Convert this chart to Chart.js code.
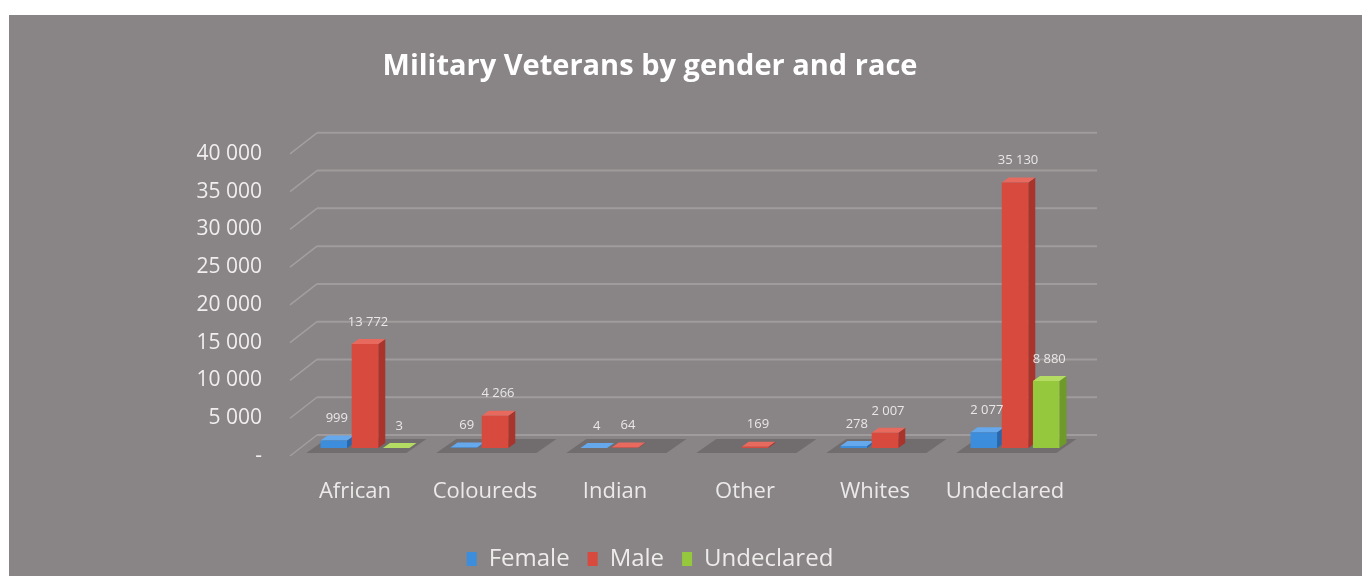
<!DOCTYPE html>
<html>
<head>
<meta charset="utf-8">
<script src="https://cdn.jsdelivr.net/npm/chart.js@4.4.1/dist/chart.umd.min.js"></script>
<style>
  html, body { margin: 0; padding: 0; background: #fff; overflow: hidden; width: 1362px; height: 576px; }
  #panel { position: absolute; left: 9px; top: 15px; right: 0; bottom: 0; background: #898485; overflow: hidden; }
  #chart { position: absolute; left: 0; top: 0; }
</style>
</head>
<body>
<div id="panel"><canvas id="chart" width="1282" height="566"></canvas></div>
<script>
// data
const categories = ['African', 'Coloureds', 'Indian', 'Other', 'Whites', 'Undeclared'];
const female = [999, 69, 4, null, 278, 2077];
const male = [13772, 4266, 64, 169, 2007, 35130];
const undeclared = [3, null, null, null, null, 8880];
const yMax = 40000;
const yStep = 5000;

// 3d look
const WALL_DX = 27, WALL_DY = 21;
const BAR_TX = 10, BAR_TY = -8;
const DEPTH_X = 7, DEPTH_Y = 5;

const faces = [
  { front: '#3d8ddd', top: '#66a8ec', side: '#2a66aa' },
  { front: '#d8493e', top: '#e86a5e', side: '#a8342b' },
  { front: '#96c83e', top: '#b4dc62', side: '#6e9a2a' }
];

function fmt(v) {
  if (v === 0) return '-';
  return String(v).replace(/\B(?=(\d{3})+(?!\d))/g, ' ');
}

// title and legend are centred on the whole canvas, not on the padded box
const centreBoxes = {
  id: 'centreBoxes',
  afterLayout(chart) {
    [chart.titleBlock, chart.legend].forEach(b => {
      if (!b) return;
      b.left = 0;
      b.right = chart.width;
      b.width = chart.width;
    });
  }
};

const fakeDepth = {
  id: 'fakeDepth',
  beforeDatasetsDraw(chart) {
    const ctx = chart.ctx;
    const area = chart.chartArea;
    const ys = chart.scales.y;
    const xs = chart.scales.x;

    // back wall + side wall grid
    ctx.save();
    ys.ticks.forEach(t => {
      const y = ys.getPixelForValue(t.value);
      ctx.strokeStyle = 'rgba(190,186,187,0.5)';
      ctx.lineWidth = 1.5;
      ctx.beginPath();
      ctx.moveTo(area.left, y);
      ctx.lineTo(area.left + WALL_DX, y - WALL_DY);
      ctx.stroke();
      ctx.strokeStyle = '#a09b9c';
      ctx.lineWidth = 2;
      ctx.beginPath();
      ctx.moveTo(area.left + WALL_DX, y - WALL_DY);
      ctx.lineTo(area.right + WALL_DX, y - WALL_DY);
      ctx.stroke();
    });

    // floor shadow under every group
    const base = ys.getPixelForValue(0);
    const cw = xs.width / categories.length;
    ctx.fillStyle = '#716d6e';
    categories.forEach((c, i) => {
      const cx = xs.getPixelForValue(i);
      const l = cx - cw * 0.39, r = cx + cw * 0.38;
      ctx.beginPath();
      ctx.moveTo(l + 2, base - 3);
      ctx.lineTo(r + 2, base - 3);
      ctx.lineTo(r + 22, base - 17);
      ctx.lineTo(l + 22, base - 17);
      ctx.closePath();
      ctx.fill();
    });
    ctx.restore();

    // bar sides and tops, then shift for the fronts
    ctx.save();
    ctx.translate(BAR_TX, BAR_TY);
    chart.data.datasets.forEach((ds, di) => {
      const meta = chart.getDatasetMeta(di);
      meta.data.forEach((el, i) => {
        if (ds.data[i] === null) return;
        const l = el.x - el.width / 2, r = el.x + el.width / 2;
        ctx.fillStyle = faces[di].side;
        ctx.beginPath();
        ctx.moveTo(r, el.y);
        ctx.lineTo(r + DEPTH_X, el.y - DEPTH_Y);
        ctx.lineTo(r + DEPTH_X, el.base - DEPTH_Y);
        ctx.lineTo(r, el.base);
        ctx.closePath();
        ctx.fill();
        ctx.fillStyle = faces[di].top;
        ctx.beginPath();
        ctx.moveTo(l, el.y);
        ctx.lineTo(r, el.y);
        ctx.lineTo(r + DEPTH_X, el.y - DEPTH_Y);
        ctx.lineTo(l + DEPTH_X, el.y - DEPTH_Y);
        ctx.closePath();
        ctx.fill();
      });
    });
  },
  afterDatasetsDraw(chart) {
    const ctx = chart.ctx;
    ctx.restore();
    ctx.save();
    ctx.font = '13px "Open Sans"';
    ctx.fillStyle = '#e9e7e7';
    ctx.textAlign = 'center';
    ctx.textBaseline = 'middle';
    chart.data.datasets.forEach((ds, di) => {
      const meta = chart.getDatasetMeta(di);
      meta.data.forEach((el, i) => {
        const v = ds.data[i];
        if (v === null) return;
        ctx.fillText(fmt(v), el.x + BAR_TX + 3, el.y + BAR_TY - 22);
      });
    });
    ctx.restore();
  }
};

new Chart(document.getElementById('chart'), {
  type: 'bar',
  data: {
    labels: categories,
    datasets: [
      { label: 'Female', data: female, backgroundColor: faces[0].front },
      { label: 'Male', data: male, backgroundColor: faces[1].front },
      { label: 'Undeclared', data: undeclared, backgroundColor: faces[2].front }
    ]
  },
  options: {
    responsive: false,
    animation: false,
    categoryPercentage: 0.72,
    barPercentage: 0.85,
    layout: { padding: { left: 0, right: 221, top: 0, bottom: 0 } },
    plugins: {
      title: {
        display: true,
        text: 'Military Veterans by gender and race',
        color: '#ffffff',
        font: { family: 'Open Sans', size: 29, weight: 'bold' },
        padding: { top: 34, bottom: 70 }
      },
      legend: {
        position: 'bottom',
        labels: {
          color: '#eeeceb',
          font: { family: 'Open Sans', size: 24 },
          boxWidth: 10,
          boxHeight: 14,
          padding: 18
        }
      },
      tooltip: { enabled: false }
    },
    scales: {
      x: {
        grid: { display: false },
        border: { display: false },
        ticks: { color: '#ebe9e9', font: { family: 'Open Sans', size: 22 }, padding: 15, maxRotation: 0 },
        afterFit(scale) { scale.height = 73; }
      },
      y: {
        min: 0,
        max: yMax,
        grid: { display: false, drawTicks: false },
        border: { display: false },
        ticks: {
          stepSize: yStep,
          color: '#f0eeee',
          font: { family: 'Open Sans', size: 21 },
          padding: 28,
          callback: v => fmt(v)
        },
        afterFit(scale) { scale.width = 281; }
      }
    }
  },
  plugins: [fakeDepth, centreBoxes]
});
</script>
</body>
</html>
